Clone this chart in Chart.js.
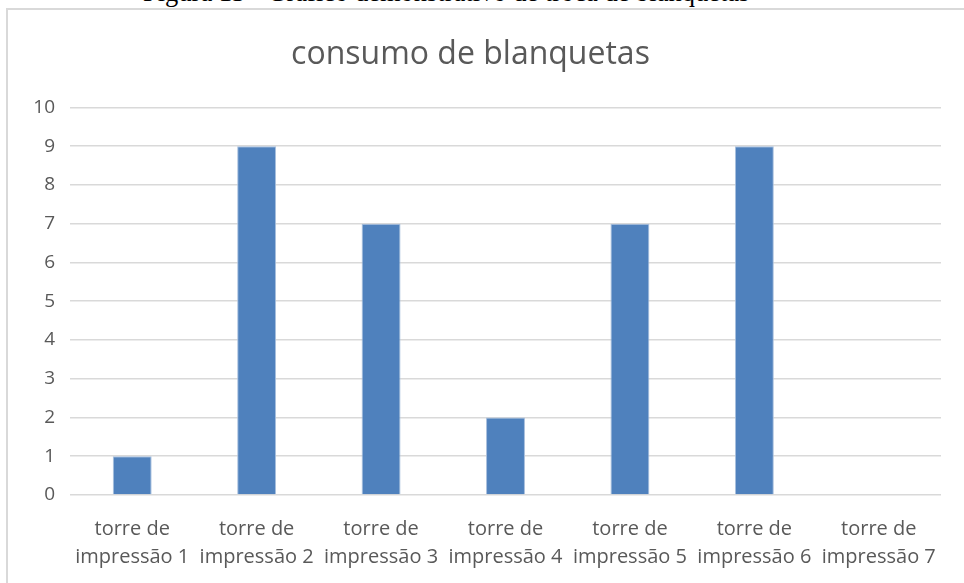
<!DOCTYPE html>
<html>
<head>
<meta charset="utf-8">
<script src="https://cdn.jsdelivr.net/npm/chart.js@4"></script>
<style>
    body { margin: 0; background: #fff; width: 964px; height: 583px; overflow: hidden; position: relative; }
    #caption { position: absolute; left: 143px; top: -23px; font: 26.5px "Liberation Serif", serif; color: #000; white-space: nowrap; }
    #frame { position: absolute; left: 6px; top: 8px; width: 1000px; height: 700px; border-left: 2px solid #d9d9d9; border-top: 2px solid #d9d9d9; }
    #wrap { position: absolute; left: 0; top: 0; width: 964px; height: 583px; }
</style>
</head>
<body>
<div id="caption">Figura 13 - Gráfico demonstrativo de troca de blanquetas</div>
<div id="frame"></div>
<div id="wrap"><canvas id="chart" width="964" height="583"></canvas></div>
<script>
// chart data
const categories = [
    ["torre de", "impressão 1"],
    ["torre de", "impressão 2"],
    ["torre de", "impressão 3"],
    ["torre de", "impressão 4"],
    ["torre de", "impressão 5"],
    ["torre de", "impressão 6"],
    ["torre de", "impressão 7"]
];
const consumo = [1, 9, 7, 2, 7, 9, 0];
const yTicks = [0, 1, 2, 3, 4, 5, 6, 7, 8, 9, 10];

const textColor = "#595959";
const gridColor = "#d9d9d9";
const font = "'Open Sans', 'Noto Sans', sans-serif";

new Chart(document.getElementById("chart"), {
    type: "bar",
    data: {
        labels: categories,
        datasets: [{
            label: "consumo de blanquetas",
            data: consumo,
            backgroundColor: "#4f81bd",
            borderColor: "#a9c0de",
            borderWidth: 1,
            barPercentage: 0.313,
            categoryPercentage: 1
        }]
    },
    options: {
        responsive: false,
        animation: false,
        devicePixelRatio: 1,
        layout: { padding: { top: 36, right: 23, bottom: 0, left: 0 } },
        plugins: {
            legend: { display: false },
            tooltip: { enabled: false },
            title: {
                display: true,
                text: "consumo de blanquetas",
                color: textColor,
                font: { family: font, size: 32, weight: "normal", lineHeight: 1.2 },
                padding: { top: 0, bottom: 33 }
            }
        },
        scales: {
            x: {
                grid: { display: false },
                border: { display: false },
                ticks: {
                    color: textColor,
                    font: { family: font, size: 20, lineHeight: 1.4 },
                    maxRotation: 0,
                    autoSkip: false,
                    padding: 12
                },
                afterFit: s => { s.height = 88; }
            },
            y: {
                min: 0,
                max: 10,
                afterBuildTicks: s => { s.ticks = yTicks.map(v => ({ value: v })); },
                grid: { color: gridColor, lineWidth: 1.5, drawTicks: false },
                border: { display: false },
                ticks: {
                    color: textColor,
                    font: { family: font, size: 19 },
                    padding: 15
                },
                afterFit: s => { s.width = 70; }
            }
        }
    }
});
</script>
</body>
</html>
